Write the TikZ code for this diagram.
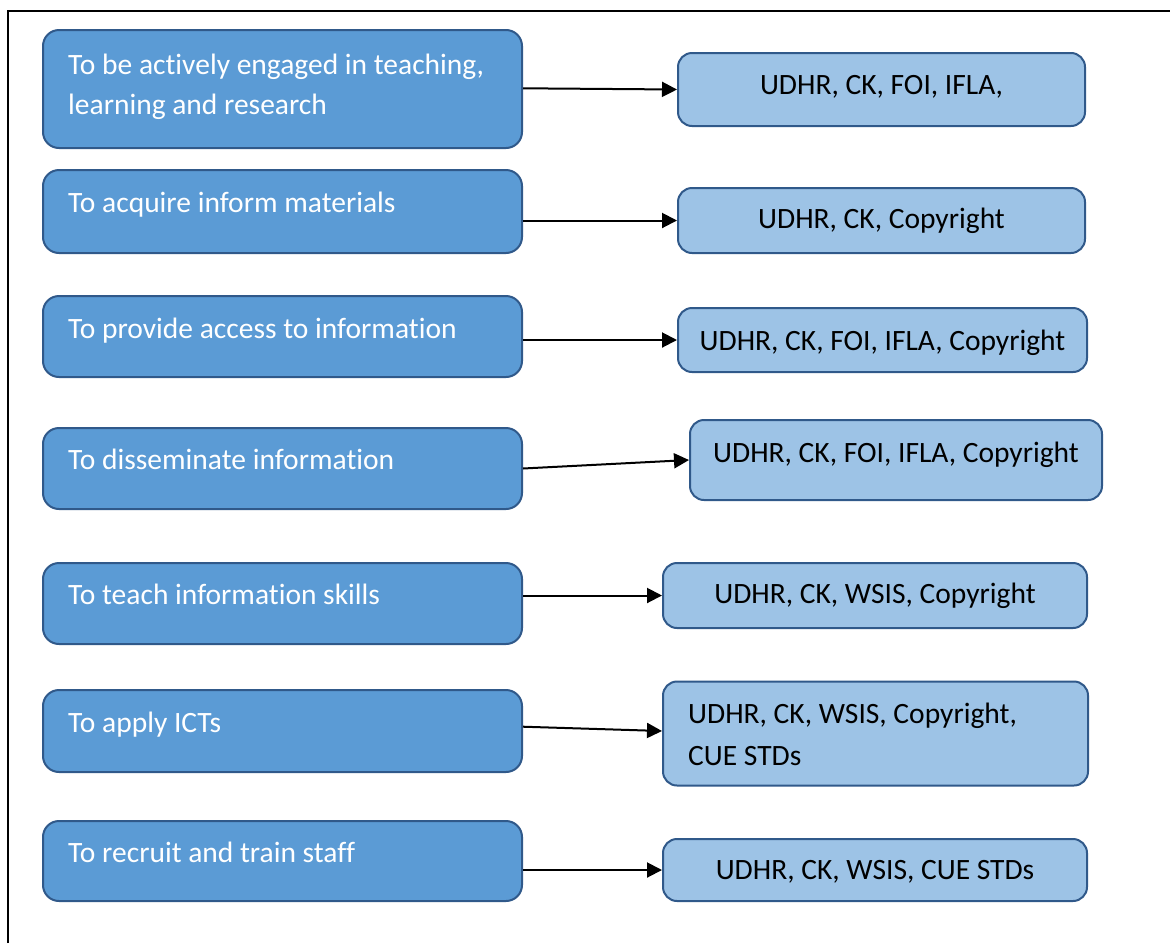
\documentclass[tikz,border=0pt]{standalone}
\usepackage{fontspec}
\setmainfont{Carlito}[Ligatures={NoCommon}]
\usetikzlibrary{arrows.meta,calc}
\definecolor{lfill}{HTML}{5B9BD5}
\definecolor{rfill}{HTML}{9DC3E6}
\definecolor{bline}{HTML}{30598A}
\begin{document}
\begin{tikzpicture}[x=1pt,y=-1pt,
  lbox/.style={draw=bline, fill=lfill, line width=2pt, rounded corners=16pt, inner sep=0pt},
  rbox/.style={draw=bline, fill=rfill, line width=2pt, rounded corners=14pt, inner sep=0pt},
  ltext/.style={anchor=base west, inner sep=0pt, text=white, font=\fontsize{29.5}{40}\selectfont},
  rtext/.style={anchor=base, inner sep=0pt, text=black, font=\fontsize{29.5}{40}\selectfont},
  conn/.style={line width=2pt, -{Triangle[length=15pt,width=15pt]}},
  framel/.style={line width=2pt}]
\path[use as bounding box, fill=white] (0,0) rectangle (1170,943);
% frame
\coordinate (fa) at (7.5,943);
\coordinate (fb) at (7.5,10.5);
\coordinate (fc) at (1170,10.5);
\draw[framel] (fa) -- (fb) -- (fc);
% left boxes
\node[lbox, minimum width=479pt, minimum height=118pt] (L1) at (282.5,89) {};
\node[lbox, minimum width=479pt, minimum height=83pt] (L2) at (282.5,211.5) {};
\node[lbox, minimum width=479pt, minimum height=81pt] (L3) at (282.5,336.5) {};
\node[lbox, minimum width=479pt, minimum height=81pt] (L4) at (282.5,468.5) {};
\node[lbox, minimum width=479pt, minimum height=81pt] (L5) at (282.5,603.5) {};
\node[lbox, minimum width=479pt, minimum height=82pt] (L6) at (282.5,731) {};
\node[lbox, minimum width=479pt, minimum height=80pt] (L7) at (282.5,861) {};
% right boxes
\node[rbox, minimum width=407pt, minimum height=73pt] (R1) at (881.5,89.5) {};
\node[rbox, minimum width=407pt, minimum height=65pt] (R2) at (881.5,220.5) {};
\node[rbox, minimum width=409pt, minimum height=64pt] (R3) at (882.5,340) {};
\node[rbox, minimum width=412pt, minimum height=80pt] (R4) at (896,460) {};
\node[rbox, minimum width=424pt, minimum height=65pt] (R5) at (875,595.5) {};
\node[rbox, minimum width=425pt, minimum height=104pt] (R6) at (875.5,733.5) {};
\node[rbox, minimum width=424pt, minimum height=62pt] (R7) at (875,870) {};
% texts
\node[ltext] (T1) at (68,74) {\parbox[t]{450pt}{\raggedright To be actively engaged in teaching,\\learning and research}};
\node[ltext] (T2) at (68,212) {To acquire inform materials};
\node[ltext] (T3) at (68,338.5) {To provide access to information};
\node[ltext] (T4) at (68,469.5) {To disseminate information};
\node[ltext] (T5) at (68,604) {To teach information skills};
\node[ltext] (T6) at (68,732.5) {To apply ICTs};
\node[ltext] (T7) at (68,862.5) {To recruit and train staff};
\node[rtext] (S1) at (881.5,94.5) {UDHR, CK, FOI, IFLA,};
\node[rtext] (S2) at (881.5,228.5) {UDHR, CK, Copyright};
\node[rtext] (S3) at (882.5,350) {UDHR, CK, FOI, IFLA, Copyright};
\node[rtext] (S4) at (896,462) {UDHR, CK, FOI, IFLA, Copyright};
\node[rtext] (S5) at (875,603.5) {UDHR, CK, WSIS, Copyright};
\node[ltext, text=black, font=\fontsize{29.5}{42}\selectfont] (S6) at (688,723.3) {\parbox[t]{390pt}{\raggedright UDHR, CK, WSIS, Copyright,\\CUE STDs}};
\node[rtext] (S7) at (875,879) {UDHR, CK, WSIS, CUE STDs};
% connectors
\draw[conn] ($(L1.east)+(0,-0.7)$) -- (R1.west);
\draw[conn] (L2.east |- R2.west) -- (R2.west);
\draw[conn] (L3.east |- R3.west) -- (R3.west);
\draw[conn] (L4.east) -- (R4.west);
\draw[conn] (L5.east |- R5.west) -- (R5.west);
\draw[conn] ($(L6.east)+(0,-4.3)$) -- ($(R6.west)+(0,-2.5)$);
\draw[conn] (L7.east |- R7.west) -- (R7.west);
\end{tikzpicture}
\end{document}
